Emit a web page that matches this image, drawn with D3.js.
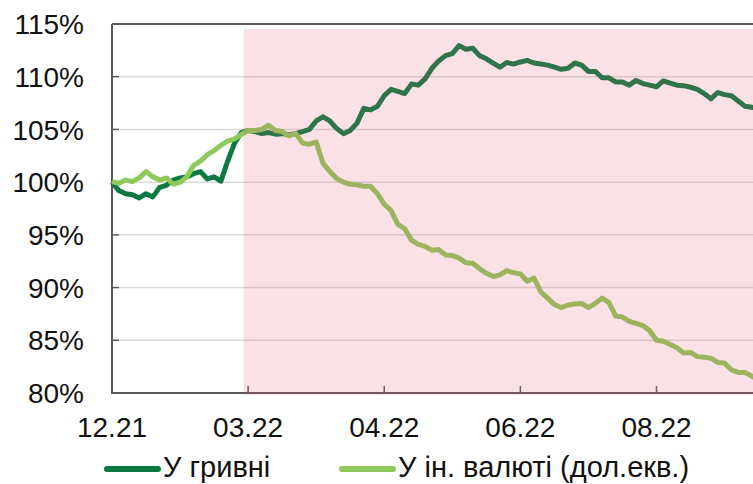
<!DOCTYPE html>
<html>
<head>
<meta charset="utf-8">
<script src="https://cdn.jsdelivr.net/npm/d3@7"></script>
<style>
  body { margin: 0; background: #fff; }
  svg { display: block; font-family: "Liberation Sans", Arial, sans-serif; }
</style>
</head>
<body>
<svg id="chart" width="753" height="484"></svg>
<script>
(function() {

  // category axis: one label every 20 points
  var tickIndex = [0, 20, 40, 60, 80],
      tickLabels = ["12.21", "03.22", "04.22", "06.22", "08.22"];

  var yTicks = [80, 85, 90, 95, 100, 105, 110, 115];

  var warStart = 19.5;  // shaded period starts just before 03.22

  var seriesNames = ["У гривні", "У ін. валюті (дол.екв.)"];

  var uah = [
    100.0, 99.2, 98.9, 98.8, 98.5, 98.9, 98.6, 99.5, 99.7, 100.2,
    100.4, 100.5, 100.8, 101.0, 100.3, 100.5, 100.1, 102.0, 103.7, 104.7,
    104.9, 104.8, 104.6, 104.7, 104.55, 104.6, 104.5, 104.6, 104.8, 105.0,
    105.8, 106.2, 105.8, 105.1, 104.6, 104.9, 105.6, 107.0, 106.85, 107.2,
    108.2, 108.8, 108.6, 108.4, 109.3, 109.2, 109.8, 110.8, 111.5, 112.0,
    112.2, 112.95, 112.6, 112.7, 112.0, 111.7, 111.3, 110.9, 111.35, 111.2,
    111.4, 111.55, 111.3, 111.2, 111.1, 110.9, 110.7, 110.8, 111.3, 111.1,
    110.5, 110.5, 109.9, 109.9, 109.5, 109.5, 109.2, 109.65, 109.35, 109.2,
    109.05, 109.6, 109.4, 109.2, 109.15, 109.0, 108.8, 108.4, 107.9, 108.5,
    108.3, 108.2, 107.7, 107.2, 107.1, 107.0
  ];

  var fx = [
    100.05, 99.9, 100.2, 100.05, 100.4, 101.0, 100.5, 100.2, 100.4, 99.8,
    100.0, 100.5, 101.6, 102.0, 102.6, 103.0, 103.5, 103.9, 104.1, 104.5,
    104.9, 104.9, 105.0, 105.4, 104.9, 104.8, 104.4, 104.6, 103.7, 103.6,
    103.8, 101.8, 101.0, 100.35, 100.0, 99.8, 99.75, 99.6, 99.6, 98.9,
    97.9, 97.3, 96.0, 95.6, 94.5, 94.1, 93.9, 93.55, 93.6, 93.1,
    93.05, 92.8, 92.35, 92.3, 91.8, 91.35, 91.05, 91.2, 91.6, 91.4,
    91.3, 90.6, 90.9, 89.6, 89.0, 88.4, 88.1, 88.35, 88.45, 88.5,
    88.1, 88.5, 89.0, 88.6, 87.3, 87.2, 86.8, 86.6, 86.4, 85.9,
    85.0, 84.9, 84.6, 84.3, 83.8, 83.85, 83.45, 83.4, 83.3, 82.9,
    82.85, 82.2, 81.95, 81.95, 81.6, 81.2
  ];

  var colors = ["#0a7a42", "#8fc95c"];

  var width = 753,
      left = 112,
      top = 24,
      bottom = 393;

  var svg = d3.select("#chart");

  var x = d3.scaleLinear()
      .domain([0, 80])
      .range([left, 656.5]);

  var y = d3.scaleLinear()
      .domain([80, 115])
      .range([bottom, top]);

  // gridlines
  svg.append("g")
    .selectAll("line")
    .data(yTicks.filter(d => d > 80 && d < 115))
    .enter().append("line")
      .attr("x1", left + 7)
      .attr("x2", width)
      .attr("y1", d => y(d))
      .attr("y2", d => y(d))
      .attr("stroke", "#d9d9d9")
      .attr("stroke-width", 1.5);

  // y axis ticks pointing inward
  svg.append("g")
    .selectAll("line")
    .data(yTicks)
    .enter().append("line")
      .attr("x1", left)
      .attr("x2", left + 7)
      .attr("y1", d => y(d))
      .attr("y2", d => y(d))
      .attr("stroke", "#595959")
      .attr("stroke-width", 1.5);

  svg.append("g")
    .selectAll("text")
    .data(yTicks)
    .enter().append("text")
      .attr("x", 84)
      .attr("y", d => y(d))
      .attr("dy", "0.36em")
      .attr("text-anchor", "end")
      .style("font-size", "28px")
      .attr("fill", "#111")
      .text(d => d + "%");

  // frame: left axis, bottom axis, top border
  svg.append("line")
      .attr("x1", left).attr("x2", left)
      .attr("y1", top).attr("y2", bottom + 1)
      .attr("stroke", "#595959").attr("stroke-width", 2);

  svg.append("line")
      .attr("x1", left).attr("x2", width)
      .attr("y1", bottom).attr("y2", bottom)
      .attr("stroke", "#595959").attr("stroke-width", 2);

  svg.append("line")
      .attr("x1", left).attr("x2", width)
      .attr("y1", top).attr("y2", top)
      .attr("stroke", "#595959").attr("stroke-width", 2);

  // x ticks pointing inward
  svg.append("g")
    .selectAll("line")
    .data(tickIndex.filter(d => d > 0))
    .enter().append("line")
      .attr("x1", d => x(d))
      .attr("x2", d => x(d))
      .attr("y1", bottom)
      .attr("y2", bottom - 7)
      .attr("stroke", "#595959")
      .attr("stroke-width", 1.5);

  svg.append("g")
    .selectAll("text")
    .data(tickIndex)
    .enter().append("text")
      .attr("x", d => x(d))
      .attr("y", 437)
      .attr("text-anchor", "middle")
      .style("font-size", "28px")
      .attr("fill", "#111")
      .text((d, i) => tickLabels[i]);

  var line = d3.line()
      .x((d, i) => x(i))
      .y(d => y(d));

  [uah, fx].forEach((data, k) => {
    svg.append("path")
        .datum(data)
        .attr("d", line)
        .attr("fill", "none")
        .attr("stroke", colors[k])
        .attr("stroke-width", 5)
        .attr("stroke-linejoin", "round");
  });

  // shaded period, drawn on top with transparency
  svg.append("rect")
      .attr("x", x(warStart) - 1)
      .attr("y", top + 5)
      .attr("width", width - x(warStart) + 1)
      .attr("height", bottom + 2 - top - 5)
      .attr("fill", "#e05a70")
      .attr("fill-opacity", 0.18);

  // legend
  var legend = svg.append("g");
  var legendX = [105, 340];

  seriesNames.forEach((name, k) => {
    legend.append("line")
        .attr("x1", legendX[k] + 2)
        .attr("x2", legendX[k] + 53)
        .attr("y1", 469)
        .attr("y2", 469)
        .attr("stroke", colors[k])
        .attr("stroke-width", 6)
        .attr("stroke-linecap", "round");

    legend.append("text")
        .attr("x", legendX[k] + 58)
        .attr("y", 477)
        .style("font-size", "29px")
        .attr("fill", "#111")
        .text(name);
  });

})();
</script>
</body>
</html>
